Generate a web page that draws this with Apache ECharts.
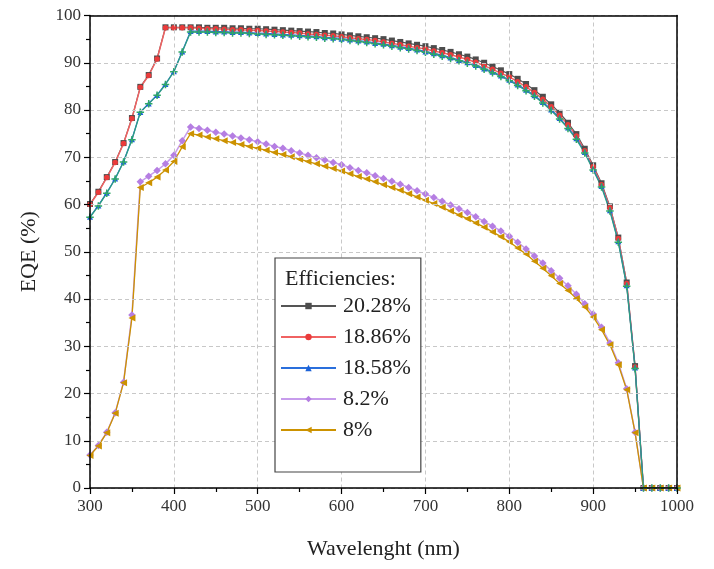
<!DOCTYPE html>
<html>
<head>
<meta charset="utf-8">
<script src="https://cdn.jsdelivr.net/npm/echarts@6/dist/echarts.min.js"></script>
<style>
html,body{margin:0;padding:0;background:#fff;}
#chart{width:714px;height:569px;}
</style>
</head>
<body>
<div id="chart"></div>
<script>
const wavelength = [300,310,320,330,340,350,360,370,380,390,400,410,420,430,440,450,460,470,480,490,500,510,520,530,540,550,560,570,580,590,600,610,620,630,640,650,660,670,680,690,700,710,720,730,740,750,760,770,780,790,800,810,820,830,840,850,860,870,880,890,900,910,920,930,940,950,960,970,980,990,1000];

const eff2028 = [60.1,62.7,65.8,69.0,73.0,78.3,84.9,87.4,90.9,97.5,
  97.5,97.5,97.5,97.5,97.4,97.4,97.4,97.3,97.3,97.2,
  97.2,97.1,97.0,96.9,96.8,96.7,96.6,96.5,96.3,96.2,
  96.0,95.8,95.6,95.4,95.2,95.0,94.7,94.4,94.1,93.8,
  93.5,93.1,92.7,92.3,91.8,91.3,90.7,90.0,89.2,88.4,
  87.6,86.6,85.5,84.2,82.8,81.2,79.4,77.3,74.9,71.8,
  68.3,64.5,59.6,53.0,43.5,25.8,0,0,0,0,0];

const eff1886 = [60.0,62.6,65.7,68.9,72.9,78.2,84.8,87.3,90.8,97.4,
  97.4,97.4,97.4,97.3,97.2,97.2,97.1,97.0,97.0,96.9,
  96.8,96.7,96.6,96.5,96.4,96.3,96.1,96.0,95.8,95.7,
  95.5,95.3,95.1,94.9,94.7,94.4,94.1,93.8,93.5,93.2,
  92.9,92.5,92.1,91.7,91.2,90.7,90.1,89.4,88.6,87.8,
  87.0,86.0,84.9,83.7,82.3,80.7,78.9,76.9,74.5,71.4,
  68.0,64.2,59.3,52.8,43.3,25.6,0,0,0,0,0];

const eff1858 = [57.4,59.8,62.5,65.5,69.1,73.8,79.6,81.4,83.2,85.5,
  88.2,92.4,96.7,96.7,96.7,96.6,96.6,96.5,96.5,96.4,
  96.3,96.2,96.1,96.0,95.9,95.8,95.7,95.6,95.4,95.3,
  95.1,94.9,94.7,94.5,94.2,94.0,93.7,93.4,93.1,92.8,
  92.4,92.0,91.6,91.1,90.6,90.1,89.5,88.8,88.1,87.3,
  86.4,85.4,84.3,83.1,81.7,80.1,78.3,76.3,74.0,71.1,
  67.5,63.9,58.8,52.2,42.9,25.5,0,0,0,0,0];

const eff82 = [7.0,9.0,11.8,15.9,22.4,36.6,64.8,66.0,67.2,68.6,
  70.4,73.5,76.4,76.1,75.7,75.3,74.9,74.5,74.1,73.7,
  73.3,72.8,72.3,71.9,71.4,70.9,70.4,69.9,69.4,68.9,
  68.4,67.8,67.2,66.7,66.1,65.5,64.9,64.3,63.6,62.9,
  62.2,61.5,60.7,59.9,59.1,58.3,57.4,56.4,55.4,54.4,
  53.3,52.0,50.6,49.1,47.6,46.0,44.4,42.8,41.0,39.0,
  36.8,34.0,30.7,26.5,21.0,11.8,0,0,0,0,0];

const eff8 = [6.9,8.9,11.7,15.8,22.3,36.0,63.6,64.6,65.8,67.3,
  69.1,72.2,75.0,74.7,74.3,73.9,73.5,73.1,72.7,72.3,
  71.9,71.5,71.0,70.6,70.1,69.6,69.1,68.6,68.1,67.6,
  67.1,66.5,65.9,65.4,64.8,64.2,63.6,63.0,62.3,61.6,
  60.9,60.2,59.4,58.6,57.8,57.0,56.1,55.2,54.2,53.2,
  52.1,50.8,49.5,48.0,46.5,44.9,43.3,41.8,40.1,38.3,
  36.2,33.5,30.3,26.1,20.8,11.7,0,0,0,0,0];

const extraCurve = [57.3,59.7,62.4,65.4,69.0,73.7,79.5,81.3,83.1,85.4,
  88.1,92.3,96.5,96.5,96.5,96.4,96.4,96.3,96.3,96.2,
  96.1,96.0,95.9,95.8,95.7,95.6,95.5,95.4,95.2,95.1,
  94.9,94.7,94.5,94.3,94.0,93.8,93.5,93.2,92.9,92.6,
  92.2,91.8,91.4,90.9,90.4,89.9,89.3,88.6,87.9,87.1,
  86.2,85.2,84.1,82.9,81.5,79.9,78.1,76.1,73.8,70.9,
  67.3,63.7,58.6,52.0,42.7,25.3,0,0,0,0,0];

const legendNames = ['20.28%','18.86%','18.58%','8.2%','8%'];
const legendTitle = 'Efficiencies:';
const xTitle = 'Wavelenght (nm)';
const yTitle = 'EQE (%)';

function pairs(vals){ return wavelength.map((w,i)=>[w, vals[i]]); }

const FONT = '"Liberation Serif","DejaVu Serif",serif';
const plusPath = 'path://M4,0 L6,0 L6,4 L10,4 L10,6 L6,6 L6,10 L4,10 L4,6 L0,6 L0,4 L4,4 Z';

function mk(name, vals, color, lineColor, symbol, size, lw, extra){
  return Object.assign({
    name: name,
    type: 'line',
    data: pairs(vals),
    symbol: symbol,
    symbolSize: size,
    showSymbol: true,
    smooth: false,
    itemStyle: {color: color},
    lineStyle: {color: lineColor, width: lw},
    emphasis: {disabled: true},
    animation: false
  }, extra || {});
}

const frameAxis = {
  show: true,
  axisLine: {show: true, onZero: false, lineStyle: {color: '#000', width: 1.5}},
  axisTick: {show: false}, axisLabel: {show: false}, splitLine: {show: false}
};

const chart = echarts.init(document.getElementById('chart'), null, {renderer:'canvas'});
chart.setOption({
  backgroundColor: '#fff',
  animation: false,
  title: {
    text: legendTitle,
    left: 280, top: 263,
    textStyle: {fontFamily: FONT, fontSize: 22, fontWeight: 'normal', color: '#222'},
    z: 20
  },
  legend: {
    data: legendNames,
    orient: 'vertical',
    left: 275, top: 258,
    padding: [37, 10, 31, 5],
    itemGap: 9,
    itemWidth: 55,
    itemHeight: 8,
    backgroundColor: '#fff',
    borderColor: '#444',
    borderWidth: 1.2,
    borderRadius: 0,
    textStyle: {fontFamily: FONT, fontSize: 22, color: '#222', padding: [0,0,0,2]},
    z: 10
  },
  grid: {
    left: 90, right: 37, top: 15.5, bottom: 81,
    show: false
  },
  xAxis: [{
    type: 'value', min: 300, max: 1000, interval: 100,
    name: xTitle, nameLocation: 'middle', nameGap: 50,
    nameTextStyle: {fontFamily: FONT, fontSize: 22, color: '#222'},
    axisLine: {show: true, onZero: false, lineStyle: {color: '#000', width: 1.5}},
    axisTick: {show: true, inside: false, length: 6, lineStyle: {color: '#000', width: 1.2}},
    minorTick: {show: true, splitNumber: 2, length: 4, lineStyle: {color: '#000', width: 1.2}},
    axisLabel: {fontFamily: FONT, fontSize: 17, color: '#333', margin: 10, formatter: v => String(v)},
    splitLine: {show: true, lineStyle: {color: '#c8c8c8', type: [4,3], width: 1}},
    z: 5
  }, Object.assign({type: 'value', min: 300, max: 1000, position: 'top', z: 5}, frameAxis)],
  yAxis: [{
    type: 'value', min: 0, max: 100, interval: 10,
    name: yTitle, nameLocation: 'middle', nameGap: 50, nameRotate: 90,
    nameTextStyle: {fontFamily: FONT, fontSize: 22, color: '#222'},
    axisLine: {show: true, onZero: false, lineStyle: {color: '#000', width: 1.5}},
    axisTick: {show: true, inside: false, length: 6, lineStyle: {color: '#000', width: 1.2}},
    minorTick: {show: true, splitNumber: 2, length: 4, lineStyle: {color: '#000', width: 1.2}},
    axisLabel: {fontFamily: FONT, fontSize: 17, color: '#333', margin: 9},
    splitLine: {show: true, lineStyle: {color: '#c8c8c8', type: [4,3], width: 1}},
    z: 5
  }, Object.assign({type: 'value', min: 0, max: 100, position: 'right', z: 5}, frameAxis)],
  series: [
    mk('20.28%', eff2028, '#4d4d4d', '#555555', 'rect', 6, 1.2),
    mk('18.86%', eff1886, '#ea3b3b', '#f06262', 'circle', 5.5, 1.5),
    mk('18.58%', eff1858, '#1c62d8', '#2a6fdc', 'triangle', 6, 1.2),
    mk('8.2%', eff82, '#b57ee2', '#c79cec', 'diamond', 7.5, 1.5),
    mk('8%', eff8, '#cc9200', '#cc9200', 'triangle', 7, 1.3, {symbolRotate: 90}),
    mk('fit', extraCurve, '#2fa866', '#2e9c82', plusPath, 7.5, 1.3)
  ]
});
</script>
</body>
</html>
